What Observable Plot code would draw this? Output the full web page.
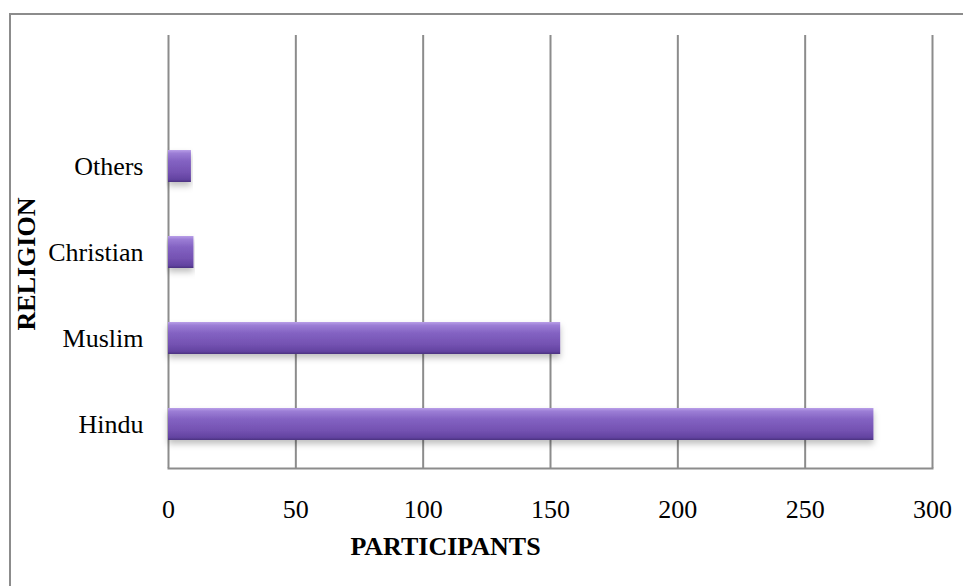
<!DOCTYPE html>
<html><head><meta charset="utf-8">
<script src="https://cdn.jsdelivr.net/npm/d3@7"></script>
<script src="https://cdn.jsdelivr.net/npm/@observablehq/plot@0.6"></script>
<style>
body{margin:0;background:#fff;}
#wrap{position:relative;width:963px;height:586px;overflow:hidden;}
#border{position:absolute;left:9px;top:13px;width:2000px;height:2000px;border-top:2px solid #8c8c8c;border-left:2px solid #8c8c8c;box-sizing:border-box;pointer-events:none;}
#wrap svg{position:absolute;left:0;top:0;}
</style></head><body><div id="wrap"><div id="border"></div></div>
<script>
const categories = ["Hindu", "Muslim", "Christian", "Others"];
const participants = [277, 154, 10, 9];
const xTicks = [0, 50, 100, 150, 200, 250, 300];
const xLabel = "PARTICIPANTS";
const yLabel = "RELIGION";

const data = categories.map((c, i) => ({religion: c, value: participants[i]}));
const yDomain = [" ", ...categories.slice().reverse()];
const grey = "#8c8c8c";

const chart = Plot.plot({
  width: 963,
  height: 586,
  marginLeft: 168,
  marginRight: 31,
  marginTop: 35,
  marginBottom: 118,
  style: {fontFamily: "'Times New Roman', 'Liberation Serif', serif", fontSize: "26px", color: "#000", background: "transparent"},
  x: {domain: [0, 300]},
  y: {domain: yDomain, paddingInner: 0.63, paddingOuter: 0.315},
  marks: [
    Plot.gridX(xTicks, {stroke: grey, strokeOpacity: 1, strokeWidth: 2}),
    Plot.frame({anchor: "bottom", stroke: grey, strokeWidth: 2}),
    Plot.barX(data, {x: "value", y: "religion", fill: "url(#barGrad)", className: "bars"}),
    Plot.axisX(xTicks, {tickSize: 0, tickPadding: 31, label: null, fontSize: 26}),
    Plot.axisY({tickSize: 0, tickPadding: 25, label: null, fontSize: 26}),
    Plot.text([xLabel], {frameAnchor: "bottom", dx: -105, dy: 78, fontWeight: "bold", fontSize: 26, lineAnchor: "middle"}),
    Plot.text([yLabel], {frameAnchor: "left", dx: -142, dy: 12, rotate: -90, textAnchor: "middle", fontWeight: "bold", fontSize: 26, lineAnchor: "middle"})
  ]
});

const svg = d3.select(chart);
const defs = svg.insert("defs", ":first-child");
const g = defs.append("linearGradient").attr("id", "barGrad").attr("x1", 0).attr("y1", 0).attr("x2", 0).attr("y2", 1);
[[0, "#b99fe8"], [0.1, "#9c7ed6"], [0.35, "#8362c2"], [0.7, "#7452b2"], [0.92, "#6243a0"], [1, "#4b3180"]].forEach(([o, c]) =>
  g.append("stop").attr("offset", o).attr("stop-color", c));
const f = defs.append("filter").attr("id", "barShadow").attr("x", "-5%").attr("y", "-20%").attr("width", "110%").attr("height", "160%");
f.append("feDropShadow").attr("dx", 0).attr("dy", 4).attr("stdDeviation", 3).attr("flood-color", "#000").attr("flood-opacity", 0.25);
svg.selectAll(".bars rect").attr("filter", "url(#barShadow)");
document.getElementById("wrap").appendChild(chart);
</script>
</body></html>
